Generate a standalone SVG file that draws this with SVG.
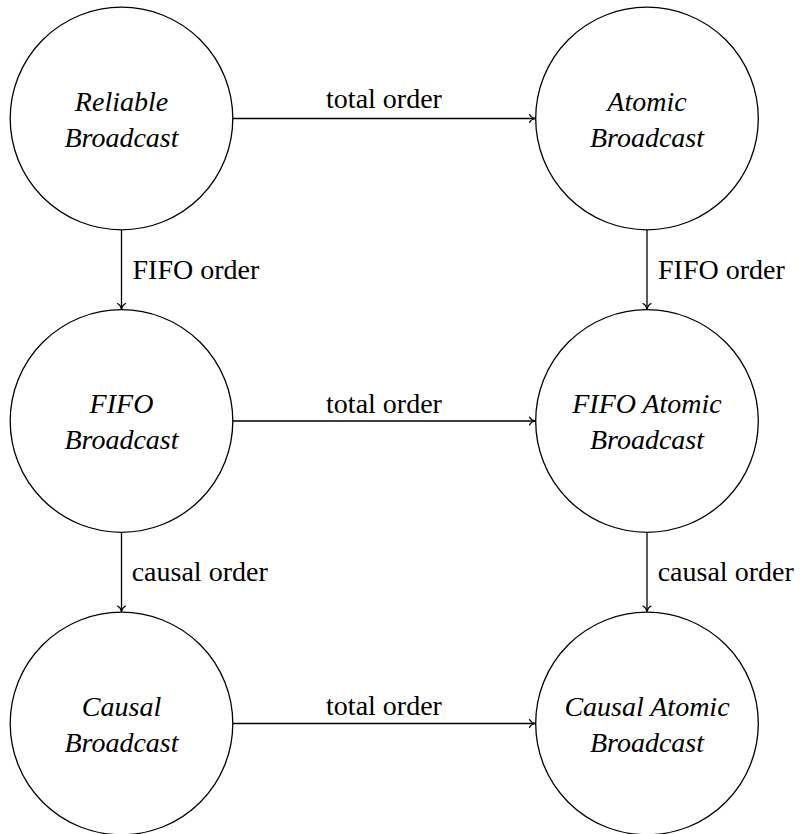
<svg xmlns="http://www.w3.org/2000/svg" width="802" height="834" viewBox="0 0 802 834">
<defs>
<marker id="arr" markerUnits="userSpaceOnUse" viewBox="-7 -5 8 10" refX="0" refY="0" markerWidth="8" markerHeight="10" orient="auto" overflow="visible">
<path d="M -5.5 -4 C -4.5 -1.8 -1.8 -0.4 0 0 C -1.8 0.4 -4.5 1.8 -5.5 4" fill="none" stroke="#000" stroke-width="1.2" stroke-linecap="round"/>
</marker>
</defs>
<rect width="802" height="834" fill="#fff"/>
<g id="connectors" stroke="#000" stroke-width="1.3" fill="none">
<path marker-end="url(#arr)" d="M233 118.5 H535"/>
<path marker-end="url(#arr)" d="M233 421 H535"/>
<path marker-end="url(#arr)" d="M233 723.5 H535"/>
<path marker-end="url(#arr)" d="M121.5 230 V309"/>
<path marker-end="url(#arr)" d="M647 230 V309"/>
<path marker-end="url(#arr)" d="M121.5 532.5 V611.5"/>
<path marker-end="url(#arr)" d="M647 532.5 V611.5"/>
</g>
<g id="edge-labels">
<text font-family="Liberation Serif" font-size="28" x="384" y="107.7" text-anchor="middle">total order</text>
<text font-family="Liberation Serif" font-size="28" x="384" y="412.7" text-anchor="middle">total order</text>
<text font-family="Liberation Serif" font-size="28" x="384" y="715" text-anchor="middle">total order</text>
<text font-family="Liberation Serif" font-size="28" x="132.5" y="279">FIFO order</text>
<text font-family="Liberation Serif" font-size="28" x="658" y="279">FIFO order</text>
<text font-family="Liberation Serif" font-size="28" x="131.7" y="581">causal order</text>
<text font-family="Liberation Serif" font-size="28" x="657.7" y="581">causal order</text>
</g>
<g id="reliable"><circle cx="121.5" cy="118.5" r="111.3" fill="#fff" stroke="#000" stroke-width="1.3"/><text font-family="Liberation Serif" font-style="italic" font-size="28" text-anchor="middle" x="121.5" y="110.7">Reliable</text><text font-family="Liberation Serif" font-style="italic" font-size="28" text-anchor="middle" x="121.5" y="146.7">Broadcast</text></g>
<g id="atomic"><circle cx="647" cy="118.5" r="111.3" fill="#fff" stroke="#000" stroke-width="1.3"/><text font-family="Liberation Serif" font-style="italic" font-size="28" text-anchor="middle" x="647" y="110.7">Atomic</text><text font-family="Liberation Serif" font-style="italic" font-size="28" text-anchor="middle" x="647" y="146.7">Broadcast</text></g>
<g id="fifo"><circle cx="121.5" cy="421" r="111.3" fill="#fff" stroke="#000" stroke-width="1.3"/><text font-family="Liberation Serif" font-style="italic" font-size="28" text-anchor="middle" x="121.5" y="413">FIFO</text><text font-family="Liberation Serif" font-style="italic" font-size="28" text-anchor="middle" x="121.5" y="449">Broadcast</text></g>
<g id="fifoatomic"><circle cx="647" cy="421" r="111.3" fill="#fff" stroke="#000" stroke-width="1.3"/><text font-family="Liberation Serif" font-style="italic" font-size="28" text-anchor="middle" x="647" y="413">FIFO Atomic</text><text font-family="Liberation Serif" font-style="italic" font-size="28" text-anchor="middle" x="647" y="449">Broadcast</text></g>
<g id="causal"><circle cx="121.5" cy="723.5" r="111.3" fill="#fff" stroke="#000" stroke-width="1.3"/><text font-family="Liberation Serif" font-style="italic" font-size="28" text-anchor="middle" x="121.5" y="715.5">Causal</text><text font-family="Liberation Serif" font-style="italic" font-size="28" text-anchor="middle" x="121.5" y="751.5">Broadcast</text></g>
<g id="causalatomic"><circle cx="647" cy="723.5" r="111.3" fill="#fff" stroke="#000" stroke-width="1.3"/><text font-family="Liberation Serif" font-style="italic" font-size="28" text-anchor="middle" x="647" y="715.5">Causal Atomic</text><text font-family="Liberation Serif" font-style="italic" font-size="28" text-anchor="middle" x="647" y="751.5">Broadcast</text></g>
</svg>
